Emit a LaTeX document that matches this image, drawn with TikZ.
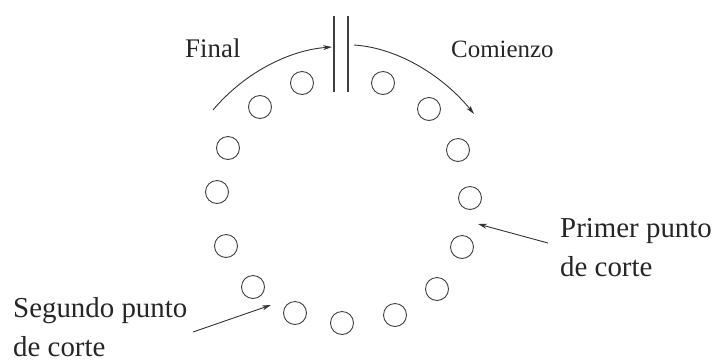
\documentclass[tikz,border=0pt]{standalone}
\usepackage{fontspec}
\setmainfont{Liberation Serif}
\usetikzlibrary{arrows.meta}
\begin{document}
\begin{tikzpicture}[x=1bp,y=-1bp,
  hole/.style={circle,draw=black!75,line width=0.9bp,minimum size=23bp,inner sep=0},
  lbl/.style={inner sep=0,font=\fontsize{27}{38}\selectfont,align=left,text=black!85},
  biglbl/.style={lbl,font=\fontsize{29}{39}\selectfont},
  pointer/.style={line width=0.9bp,draw=black!80,-{Stealth[length=9bp,width=5bp]}},
  plate/.style={line width=1.8bp,draw=black!75}]
\useasboundingbox (0,0) rectangle (715,361);
% ring of holes
\node[hole] (c1) at (302,83) {};
\node[hole] (c2) at (260,107) {};
\node[hole] (c3) at (228,148) {};
\node[hole] (c4) at (217,192) {};
\node[hole] (c5) at (226,246) {};
\node[hole] (c6) at (253,287) {};
\node[hole] (c7) at (295,313) {};
\node[hole] (c8) at (342,323) {};
\node[hole] (c9) at (395,315) {};
\node[hole] (c10) at (437,289) {};
\node[hole] (c11) at (462,247) {};
\node[hole] (c12) at (470,198) {};
\node[hole] (c13) at (458,150) {};
\node[hole] (c14) at (429,109) {};
\node[hole] (c15) at (383,83) {};
% capacitor plates
\coordinate (p1t) at (334,16);
\coordinate (p1b) at (334,92);
\coordinate (p2t) at (348,16);
\coordinate (p2b) at (348,92);
\draw[plate] (p1t) -- (p1b);
\draw[plate] (p2t) -- (p2b);
% labels
\node[lbl,anchor=base west] (final) at (185,57) {Final};
\node[lbl,anchor=base west,font=\fontsize{25}{38}\selectfont] (com) at (451,57) {Comienzo};
\node[biglbl,anchor=base west] (prim) at (560,276) {Primer punto\\de corte};
\node[biglbl,anchor=base west] (seg) at (13,356) {Segundo punto\\de corte};
% arrows
\coordinate (fs) at (213,110);
\coordinate (fe) at (332,47);
\coordinate (cs) at (354,45);
\coordinate (ce) at (474,114);
\coordinate (pe) at (478,224);
\coordinate (ps) at (548,243);
\coordinate (ss) at (193,332);
\coordinate (se) at (271,305);
\draw[pointer] (fs) .. controls (245,72) and (290,50) .. (fe);
\draw[pointer] (cs) .. controls (400,48) and (445,78) .. (ce);
\draw[pointer] (ps) -- (pe);
\draw[pointer] (ss) -- (se);
\end{tikzpicture}
\end{document}
